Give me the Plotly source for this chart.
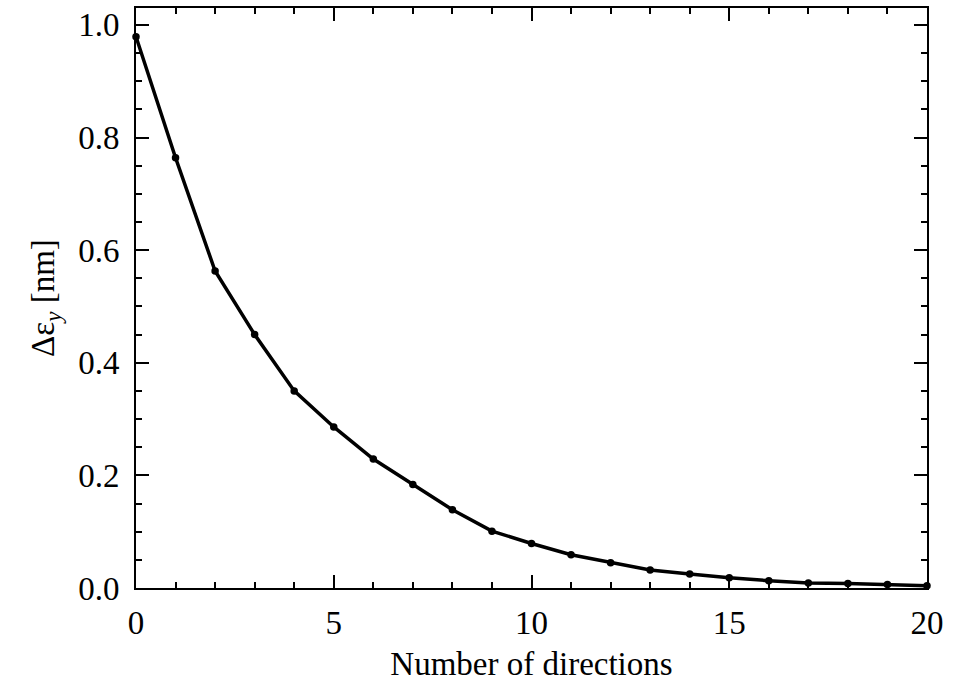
import plotly.graph_objects as go

directions = list(range(0, 21))
delta_eps = [0.979, 0.764, 0.563, 0.450, 0.350, 0.286, 0.229, 0.184, 0.139, 0.101,
             0.079, 0.059, 0.045, 0.032, 0.025, 0.018, 0.013, 0.009, 0.008, 0.006, 0.004]

FONT = "Liberation Serif, Times New Roman, serif"

fig = go.Figure()
fig.add_trace(go.Scatter(
    x=directions, y=delta_eps, mode="lines+markers",
    line=dict(color="black", width=3.5),
    marker=dict(color="black", size=7.5),
    showlegend=False, cliponaxis=False,
))

axis_common = dict(
    showline=True, linecolor="black", linewidth=2, mirror="ticks",
    ticks="inside", ticklen=13, tickwidth=1.5, tickcolor="black",
    showgrid=False, zeroline=False,
    tickfont=dict(family=FONT, size=33, color="black"),
)

fig.update_xaxes(
    range=[0, 20], dtick=5, tick0=0, ticklabelstandoff=4,
    minor=dict(ticks="inside", ticklen=6, dtick=1, tickwidth=1.5, tickcolor="black", showgrid=False),
    title=dict(text="Number of directions", font=dict(family=FONT, size=33, color="black"), standoff=12),
    **axis_common,
)
fig.update_yaxes(
    range=[0, 1.03], dtick=0.2, tick0=0, tickformat=".1f", ticklabelstandoff=8,
    minor=dict(ticks="inside", ticklen=6, dtick=0.05, tickwidth=1.5, tickcolor="black", showgrid=False),
    title=dict(text="Δε<sub><i>y</i></sub> [nm]", font=dict(family=FONT, size=33, color="black"), standoff=14),
    **axis_common,
)

fig.update_layout(
    width=969, height=682,
    margin=dict(l=136, r=42, t=6, b=92),
    plot_bgcolor="white", paper_bgcolor="white",
)

fig.write_html("out.html")
